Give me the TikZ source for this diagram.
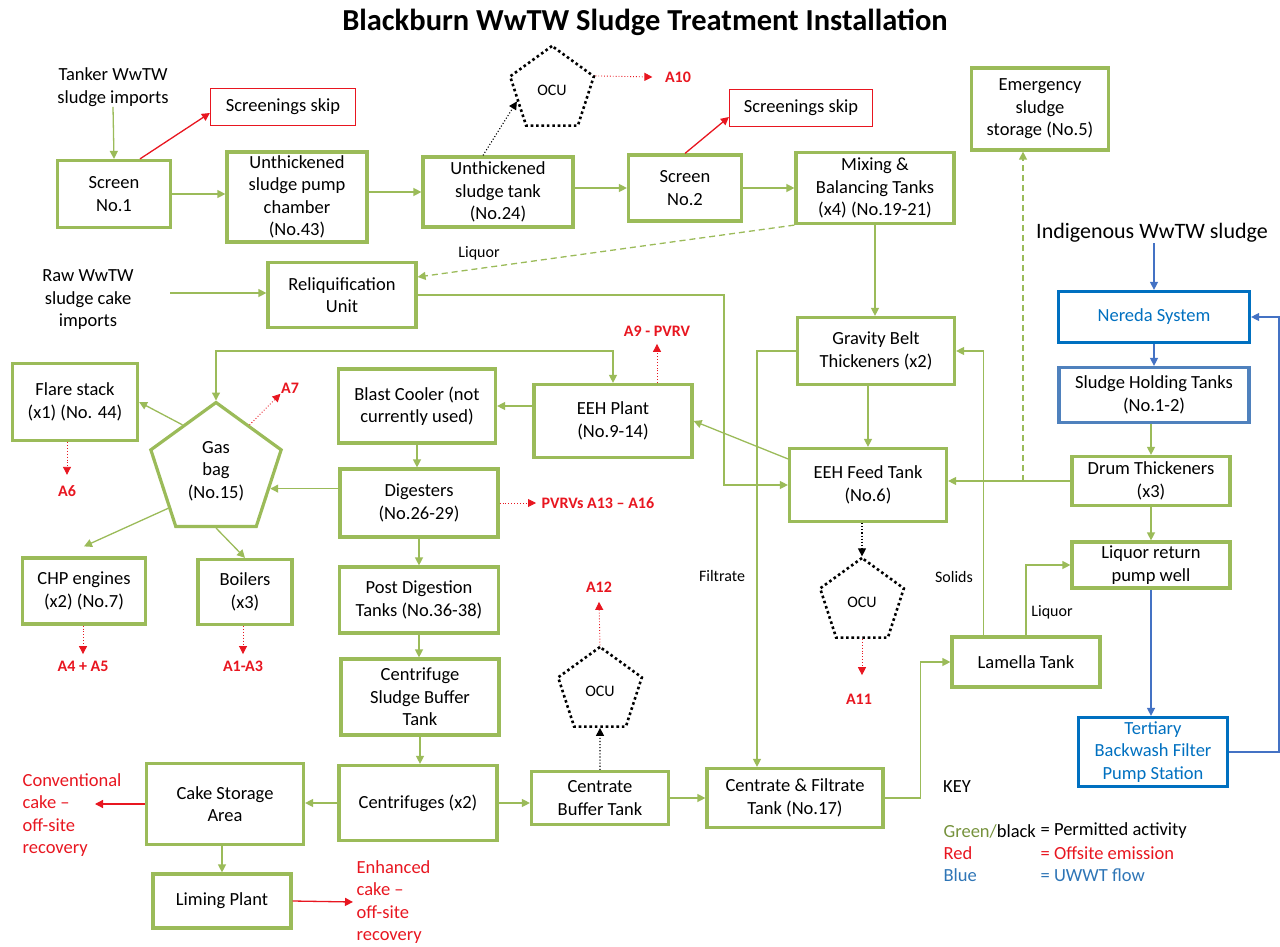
\documentclass[tikz,border=0pt]{standalone}
\usepackage{fontspec}
\setmainfont{Carlito}
\usepackage{xcolor}
\usetikzlibrary{arrows.meta,shapes.geometric,calc}
\definecolor{permitgreen}{RGB}{155,187,89}
\definecolor{emitred}{RGB}{232,22,32}
\definecolor{uwwtblue}{RGB}{0,112,192}
\definecolor{holdblue}{RGB}{79,129,189}
\definecolor{flowblue}{RGB}{68,114,196}
\definecolor{keygreen}{RGB}{118,146,60}
\definecolor{keyblue}{RGB}{46,117,182}

\begin{document}
\begin{tikzpicture}[x=1pt,y=-1pt,->,>={Triangle[length=8pt,width=8pt]},line width=1.3pt,font=\fontsize{18.5}{22.5}\selectfont]
  \tikzstyle{plant box} = [draw=permitgreen,line width=3.2pt,align=center,inner sep=0pt,text=black]
  \tikzstyle{uwwt box} = [draw=uwwtblue,line width=3.2pt,align=center,inner sep=0pt,text=uwwtblue]
  \tikzstyle{skip box} = [draw=emitred,line width=1.2pt,align=center,inner sep=0pt]
  \tikzstyle{gas holder} = [regular polygon,regular polygon sides=5,draw=permitgreen,line width=3.2pt,align=center,inner sep=0pt]
  \tikzstyle{odour unit} = [regular polygon,regular polygon sides=5,draw=black,line width=2.6pt,dash pattern=on 2.6pt off 2.8pt,inner sep=0pt,minimum size=88,font=\fontsize{16}{19}\selectfont]
  \tikzstyle{note} = [inner sep=0pt,align=center]
  \tikzstyle{small note} = [inner sep=0pt,align=center,font=\fontsize{16}{19}\selectfont]
  \tikzstyle{emit text} = [inner sep=0pt,text=emitred,font=\bfseries\fontsize{16}{19}\selectfont]
  \tikzstyle{green flow} = [permitgreen]
  \tikzstyle{blue flow} = [flowblue]
  \tikzstyle{waste} = [emitred]
  \tikzstyle{emission} = [emitred,dotted,line width=0.9pt]
  \tikzstyle{vent} = [black,dotted,line width=1.1pt]

  \useasboundingbox (0,0) rectangle (1280,947);

  \node[note,font=\bfseries\fontsize{30.5}{36}\selectfont] (heading) at (645,22) {Blackburn WwTW Sludge Treatment Installation};

  \node[note] (tanker) at (113,87) {Tanker WwTW\\sludge imports};
  \node[plant box,minimum width=113,minimum height=67] (screenA) at (114,194) {Screen\\No.1};
  \node[skip box,minimum width=145,minimum height=37] (skipA) at (283,107) {Screenings skip};
  \node[plant box,minimum width=140,minimum height=90] (pumpchamber) at (297,197) {Unthickened\\sludge pump\\chamber\\(No.43)};
  \node[plant box,minimum width=150,minimum height=70] (rawtank) at (498,192) {Unthickened\\sludge tank\\(No.24)};
  \node[odour unit] (ocuA) at (552,90) {OCU};
  \node[plant box,minimum width=113,minimum height=66] (screenB) at (685,188) {Screen\\No.2};
  \node[skip box,minimum width=143,minimum height=37] (skipB) at (801,108) {Screenings skip};
  \node[plant box,minimum width=158,minimum height=71] (mixing) at (875,188) {Mixing \&\\Balancing Tanks\\(x4) (No.19-21)};
  \node[plant box,minimum width=137,minimum height=82] (emergency) at (1040,109) {Emergency\\sludge\\storage (No.5)};

  \node[note,font=\fontsize{22}{26}\selectfont] (indigenous) at (1152,233) {Indigenous WwTW sludge};
  \node[uwwt box,minimum width=191,minimum height=51] (nereda) at (1154,317) {Nereda System};
  \node[plant box,draw=holdblue,minimum width=190,minimum height=55] (holding) at (1154,395) {Sludge Holding Tanks\\(No.1-2)};
  \node[plant box,minimum width=158,minimum height=49] (drum) at (1151,481) {Drum Thickeners\\(x3)};
  \node[plant box,minimum width=158,minimum height=46] (liqwell) at (1151,565) {Liquor return\\pump well};
  \node[uwwt box,minimum width=149,minimum height=69] (tertiary) at (1153,752) {Tertiary\\Backwash Filter\\Pump Station};
  \node[plant box,minimum width=148,minimum height=50] (lamella) at (1026,662) {Lamella Tank};

  \node[note] (rawcake) at (88,300) {Raw WwTW\\sludge cake\\imports};
  \node[plant box,minimum width=148,minimum height=65] (reliq) at (342,295) {Reliquification\\Unit};
  \node[plant box,minimum width=157,minimum height=67] (gbt) at (876,351) {Gravity Belt\\Thickeners (x2)};
  \node[plant box,minimum width=157,minimum height=73] (feed) at (868,485) {EEH Feed Tank\\(No.6)};
  \node[plant box,minimum width=158,minimum height=73] (eeh) at (613,421) {EEH Plant\\(No.9-14)};
  \node[plant box,minimum width=157,minimum height=74] (blast) at (417,406) {Blast Cooler (not\\currently used)};
  \node[plant box,minimum width=158,minimum height=68] (digesters) at (419,503) {Digesters\\(No.26-29)};
  \node[plant box,minimum width=159,minimum height=66] (postdig) at (419,600) {Post Digestion\\Tanks (No.36-38)};
  \node[plant box,minimum width=158,minimum height=76] (cfbuffer) at (420,697) {Centrifuge\\Sludge Buffer\\Tank};
  \node[plant box,minimum width=158,minimum height=75] (centrifuges) at (418,803) {Centrifuges (x2)};
  \node[plant box,minimum width=157,minimum height=81] (cake) at (225,804) {Cake Storage\\Area};
  \node[plant box,minimum width=138,minimum height=54] (liming) at (222,901) {Liming Plant};
  \node[note,anchor=west,align=left,text=emitred] (conventional) at (22,815) {Conventional\\cake --\\off-site\\recovery};
  \node[note,anchor=west,align=left,text=emitred] (enhanced) at (356,902) {Enhanced\\cake --\\off-site\\recovery};
  \node[plant box,minimum width=137,minimum height=53] (centrate) at (600,798) {Centrate\\Buffer Tank};
  \node[odour unit] (ocuC) at (600,691) {OCU};
  \node[plant box,minimum width=176,minimum height=59] (cftank) at (795,798) {Centrate \& Filtrate\\Tank (No.17)};
  \node[odour unit] (ocuB) at (862,602) {OCU};

  \node[plant box,minimum width=125,minimum height=77] (flare) at (75,402) {Flare stack\\(x1) (No. 44)};
  \node[gas holder,minimum size=137] (gasbag) at (216,471) {Gas\\bag\\(No.15)};
  \node[plant box,minimum width=123,minimum height=66] (chp) at (84,591) {CHP engines\\(x2) (No.7)};
  \node[plant box,minimum width=94,minimum height=65] (boilers) at (245,592) {Boilers\\(x3)};

  \node[emit text] (a10) at (678,77) {A10};
  \node[emit text] (a9) at (657,331) {A9 - PVRV};
  \node[emit text] (a7) at (290,388) {A7};
  \node[emit text] (a6) at (67,491) {A6};
  \node[emit text] (a4) at (83,666) {A4 + A5};
  \node[emit text] (a1) at (243,666) {A1-A3};
  \node[emit text,anchor=west] (pvrv) at (541,503) {PVRVs A13 -- A16};
  \node[emit text] (a11) at (859,699) {A11};
  \node[emit text] (a12) at (599,587) {A12};

  \node[small note] (liquorA) at (479,253) {Liquor};
  \node[small note] (filtrate) at (722,576) {Filtrate};
  \node[small note] (solids) at (954,577) {Solids};
  \node[small note] (liquorB) at (1052,612) {Liquor};
  \node[note] (keyhead) at (957,787) {KEY};
  \node[note,anchor=west] (keyA) at (943,831) {\textcolor{keygreen}{Green/}black};
  \node[note,anchor=west,text=emitred] (keyB) at (943,853) {Red};
  \node[note,anchor=west,text=keyblue] (keyC) at (943,875) {Blue};
  \node[note,anchor=west] (keyAeq) at (1040,831) {= Permitted activity};
  \node[note,anchor=west,text=emitred] (keyBeq) at (1040,853) {= Offsite emission};
  \node[note,anchor=west,text=keyblue] (keyCeq) at (1040,875) {= UWWT flow};

  \coordinate (rawend) at (170,293);
  \coordinate (reliqbend) at (724,295);
  \coordinate (filtbend) at (757,351);
  \coordinate (drumtap) at (1023,481);
  \coordinate (convend) at (95,804);

  \draw[green flow] (tanker.south) -- (screenA.north);
  \draw[waste] ([xshift=26pt]screenA.north) -- ([yshift=-6pt]skipA.west);
  \draw[green flow] (screenA.east) -- (screenA.east -| pumpchamber.west);
  \draw[green flow] (rawtank.west -| pumpchamber.east) -- (rawtank.west);
  \draw[vent] ([xshift=-15pt]rawtank.north) -- (ocuA.side 2);
  \draw[emission] (ocuA.corner 5) -- ([xshift=-12pt]a10.west);
  \draw[green flow] (screenB.west -| rawtank.east) -- (screenB.west);
  \draw[waste] (screenB.north) -- ([yshift=-9pt]skipB.west);
  \draw[green flow] (screenB.east) -- (screenB.east -| mixing.west);
  \draw[green flow,dash pattern=on 6pt off 4pt] (mixing.south west) -- ([yshift=18pt]reliq.east);
  \draw[green flow] (mixing.south) -- (mixing.south |- gbt.north);
  \draw[green flow,dash pattern=on 6pt off 4pt] (drumtap) -- (drumtap |- emergency.south);

  \draw[green flow] (rawend) -- (rawend -| reliq.west);
  \draw[green flow] (reliq.east) -- (reliqbend) |- (feed.west);
  \draw[green flow] (gbt.west) -- (filtbend) -- (filtbend |- cftank.north);
  \draw[green flow] (gbt.south -| feed.north) -- (feed.north);
  \draw[green flow] ([yshift=-12pt]feed.north west) -- (eeh.east);
  \draw[green flow] (eeh.west |- blast.east) -- (blast.east);
  \draw[green flow,<->] (gasbag.corner 1) |- ([yshift=32pt]eeh.north) -- (eeh.north);
  \draw[emission] (a9.south |- eeh.north) -- ([yshift=-7pt]a9.south);
  \draw[green flow] (drum.west) -- (drum.west -| feed.east);
  \draw[vent] (ocuB.corner 1 |- feed.south) -- (ocuB.corner 1);
  \draw[emission] (ocuB.south) -- ([yshift=18pt]ocuB.south |- a11.north);

  \draw[blue flow] (indigenous.south -| nereda.north) -- (nereda.north);
  \draw[blue flow] (nereda.south) -- (holding.north);
  \draw[green flow] (holding.south -| drum.north) -- (drum.north);
  \draw[green flow] (drum.south) -- (liqwell.north);
  \draw[blue flow] (liqwell.south) -- (liqwell.south |- tertiary.north);
  \draw[blue flow] (tertiary.east) -| ([xshift=28pt]nereda.east) -- (nereda.east);
  \draw[green flow] (cftank.east) -| ([xshift=-30pt]lamella.west) -- (lamella.west);
  \draw[green flow] (lamella.north) |- (liqwell.west);
  \draw[green flow] ([xshift=33pt]lamella.north west) |- (gbt.east);

  \draw[green flow] (blast.south) -- (blast.south |- digesters.north);
  \draw[green flow] (gasbag.side 4 -| digesters.west) -- (gasbag.side 4);
  \draw[emission] (digesters.east) -- ([xshift=-5pt]pvrv.west);
  \draw[green flow] (digesters.south) -- (digesters.south |- postdig.north);
  \draw[green flow] (postdig.south) -- (postdig.south |- cfbuffer.north);
  \draw[green flow] (cfbuffer.south) -- (cfbuffer.south |- centrifuges.north);
  \draw[green flow] (centrifuges.west) -- (centrifuges.west -| cake.east);
  \draw[green flow] (centrifuges.east) -- (centrifuges.east -| centrate.west);
  \draw[green flow] (centrate.east) -- (centrate.east -| cftank.west);
  \draw[vent] (centrate.north) -- (ocuC.south);
  \draw[emission] (ocuC.corner 1) -- ([yshift=-9pt]a12.south);
  \draw[waste] (cake.west) -- (convend);
  \draw[green flow] (cake.south -| liming.north) -- (liming.north);
  \draw[waste] (liming.east) -- ([xshift=-3pt]enhanced.west);

  \draw[green flow] (gasbag.side 1) -- (flare.east);
  \draw[green flow] ($(gasbag.corner 2)!0.75!(gasbag.corner 3)$) -- ([yshift=10pt]chp.north);
  \draw[green flow] (gasbag.south) -- (boilers.north);
  \draw[emission] (gasbag.side 5) -- (a7.south west);
  \draw[emission] (a6.north |- flare.south) -- ([yshift=10pt]a6.north);
  \draw[emission] (a4.north |- chp.south) -- ([yshift=6pt]a4.north);
  \draw[emission] (a1.north |- boilers.south) -- ([yshift=6pt]a1.north);
\end{tikzpicture}
\end{document}
